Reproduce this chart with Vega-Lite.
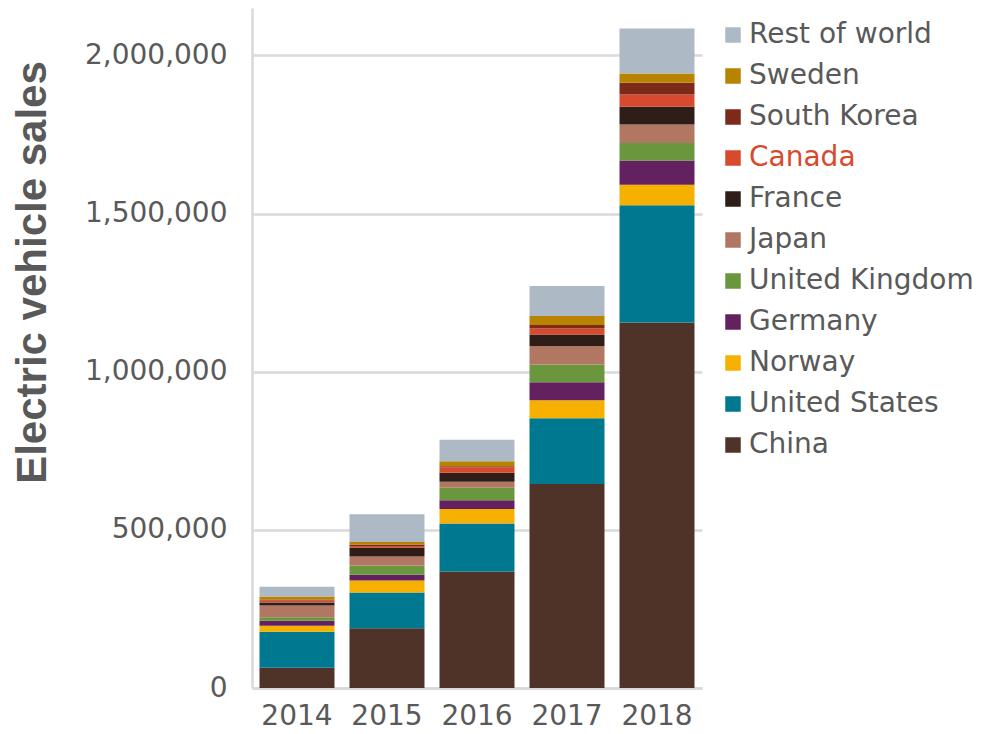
{
  "$schema": "https://vega.github.io/schema/vega-lite/v6.json",
  "width": 450,
  "height": 680,
  "autosize": {"type": "none"},
  "padding": {"left": 252, "top": 8, "right": 287, "bottom": 46},
  "background": "white",
  "config": {"font": "DejaVu Sans", "view": {"stroke": null}},
  "data": {"values": [
    {"year": "2014", "country": "China", "sales": 64000},
    {"year": "2014", "country": "United States", "sales": 114000},
    {"year": "2014", "country": "Norway", "sales": 19000},
    {"year": "2014", "country": "Germany", "sales": 16000},
    {"year": "2014", "country": "United Kingdom", "sales": 10500},
    {"year": "2014", "country": "Japan", "sales": 37000},
    {"year": "2014", "country": "France", "sales": 9500},
    {"year": "2014", "country": "Canada", "sales": 7000},
    {"year": "2014", "country": "South Korea", "sales": 3000},
    {"year": "2014", "country": "Sweden", "sales": 9500},
    {"year": "2014", "country": "Rest of world", "sales": 31000},
    {"year": "2015", "country": "China", "sales": 189000},
    {"year": "2015", "country": "United States", "sales": 113000},
    {"year": "2015", "country": "Norway", "sales": 38000},
    {"year": "2015", "country": "Germany", "sales": 18000},
    {"year": "2015", "country": "United Kingdom", "sales": 29000},
    {"year": "2015", "country": "Japan", "sales": 28500},
    {"year": "2015", "country": "France", "sales": 28500},
    {"year": "2015", "country": "Canada", "sales": 5000},
    {"year": "2015", "country": "South Korea", "sales": 5000},
    {"year": "2015", "country": "Sweden", "sales": 8000},
    {"year": "2015", "country": "Rest of world", "sales": 87000},
    {"year": "2016", "country": "China", "sales": 368000},
    {"year": "2016", "country": "United States", "sales": 152000},
    {"year": "2016", "country": "Norway", "sales": 46000},
    {"year": "2016", "country": "Germany", "sales": 28000},
    {"year": "2016", "country": "United Kingdom", "sales": 39000},
    {"year": "2016", "country": "Japan", "sales": 19000},
    {"year": "2016", "country": "France", "sales": 28500},
    {"year": "2016", "country": "Canada", "sales": 17700},
    {"year": "2016", "country": "South Korea", "sales": 3000},
    {"year": "2016", "country": "Sweden", "sales": 16000},
    {"year": "2016", "country": "Rest of world", "sales": 68000},
    {"year": "2017", "country": "China", "sales": 645000},
    {"year": "2017", "country": "United States", "sales": 208000},
    {"year": "2017", "country": "Norway", "sales": 57000},
    {"year": "2017", "country": "Germany", "sales": 57000},
    {"year": "2017", "country": "United Kingdom", "sales": 56000},
    {"year": "2017", "country": "Japan", "sales": 58000},
    {"year": "2017", "country": "France", "sales": 37000},
    {"year": "2017", "country": "Canada", "sales": 19000},
    {"year": "2017", "country": "South Korea", "sales": 10500},
    {"year": "2017", "country": "Sweden", "sales": 28500},
    {"year": "2017", "country": "Rest of world", "sales": 95000},
    {"year": "2018", "country": "China", "sales": 1156000},
    {"year": "2018", "country": "United States", "sales": 370000},
    {"year": "2018", "country": "Norway", "sales": 65500},
    {"year": "2018", "country": "Germany", "sales": 76000},
    {"year": "2018", "country": "United Kingdom", "sales": 56000},
    {"year": "2018", "country": "Japan", "sales": 58000},
    {"year": "2018", "country": "France", "sales": 56000},
    {"year": "2018", "country": "Canada", "sales": 39000},
    {"year": "2018", "country": "South Korea", "sales": 37000},
    {"year": "2018", "country": "Sweden", "sales": 29500},
    {"year": "2018", "country": "Rest of world", "sales": 142000}
  ]},
  "mark": {"type": "bar"},
  "encoding": {
    "x": {
      "field": "year", "type": "nominal",
      "scale": {"paddingInner": 0.1667, "paddingOuter": 0.0833},
      "axis": {
        "title": null, "labelAngle": 0, "ticks": false,
        "domainColor": "#d9d9d9", "domainWidth": 2.5,
        "labelFontSize": 28, "labelColor": "#595959", "labelPadding": 14,
        "labelFont": "DejaVu Sans"
      }
    },
    "y": {
      "field": "sales", "type": "quantitative", "stack": "zero",
      "scale": {"domain": [0, 2150000], "nice": false},
      "axis": {
        "title": "Electric vehicle sales",
        "titleFont": "Liberation Sans", "titleFontSize": 42, "titleFontWeight": "bold",
        "titleColor": "#595959", "titleX": -220, "titleY": 264, "titleAlign": "center", "titleBaseline": "middle", "titleAngle": 270,
        "values": [0, 500000, 1000000, 1500000, 2000000], "format": ",.0f",
        "ticks": false, "grid": true, "gridColor": "#d9d9d9", "gridWidth": 2.5,
        "domainColor": "#d9d9d9", "domainWidth": 2.5,
        "labelFontSize": 28, "labelColor": "#595959", "labelPadding": 25,
        "labelFont": "DejaVu Sans", "labelFlush": false
      }
    },
    "color": {
      "field": "country", "type": "nominal",
      "scale": {
        "domain": ["Rest of world", "Sweden", "South Korea", "Canada", "France", "Japan", "United Kingdom", "Germany", "Norway", "United States", "China"],
        "range": ["#adb9c4", "#b88400", "#7e2a1b", "#d84a2d", "#2f1e18", "#b17763", "#6a963e", "#63225f", "#f6b000", "#00788f", "#4f3328"]
      },
      "legend": {
        "title": null, "orient": "none", "legendX": 467, "legendY": 13,
        "symbolType": "square", "symbolSize": 240, "symbolStrokeWidth": 0,
        "labelFontSize": 28, "labelColor": "#595959", "labelFont": "DejaVu Sans",
        "labelOffset": 2, "rowPadding": 13, "padding": 0, "labelLimit": 400,
        "encode": {"labels": {"update": {"fill": {"signal": "datum.value === 'Canada' ? '#d84a2d' : '#595959'"}}}}
      }
    },
    "order": {"field": "country_order", "type": "quantitative"}
  },
  "transform": [
    {"calculate": "indexof(['China','United States','Norway','Germany','United Kingdom','Japan','France','Canada','South Korea','Sweden','Rest of world'], datum.country)", "as": "country_order"}
  ]
}
